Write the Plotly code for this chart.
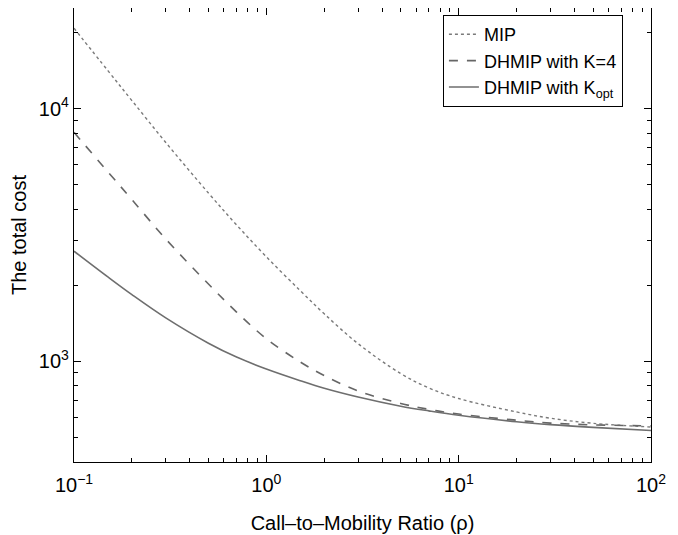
import plotly.graph_objects as go

rho = [0.1, 0.15, 0.2, 0.3, 0.5, 0.7, 1, 1.5, 2, 3, 5, 7, 10, 20, 30, 50, 100]
mip = [20800, 14130, 10760, 7345, 4634, 3467, 2594, 1905, 1542, 1175, 895, 785, 713, 631, 596, 569, 550]
dhmip_k4 = [8054, 5623, 4365, 3048, 2023, 1567, 1230, 995, 879, 764, 682, 646, 619, 585, 570, 561, 556]
dhmip_kopt = [2729, 2158, 1837, 1486, 1180, 1040, 933, 839, 783, 723, 665, 637, 612, 577, 562, 548, 533]

x_tickvals = [0.1, 1, 10, 100]
x_ticktext = ["10<sup>−1</sup>", "10<sup>0</sup>", "10<sup>1</sup>", "10<sup>2</sup>"]
x_minor = [0.2, 0.3, 0.4, 0.5, 0.6, 0.7, 0.8, 0.9, 2, 3, 4, 5, 6, 7, 8, 9, 20, 30, 40, 50, 60, 70, 80, 90]
y_tickvals = [1000, 10000]
y_ticktext = ["10<sup>3</sup>", "10<sup>4</sup>"]
y_minor = [500, 600, 700, 800, 900, 2000, 3000, 4000, 5000, 6000, 7000, 8000, 9000, 20000]

FONT = "Liberation Sans, Arial, sans-serif"

fig = go.Figure()
fig.add_trace(go.Scatter(x=rho, y=mip, mode="lines", name="MIP",
                         line=dict(color="#7a7a7a", width=1.4, dash="dot", shape="spline")))
fig.add_trace(go.Scatter(x=rho, y=dhmip_k4, mode="lines", name="DHMIP with K=4",
                         line=dict(color="#666666", width=1.6, dash="dash", shape="spline")))
fig.add_trace(go.Scatter(x=rho, y=dhmip_kopt, mode="lines", name="DHMIP with K<sub>opt</sub>",
                         line=dict(color="#6e6e6e", width=1.6, shape="spline")))

axis_common = dict(
    showgrid=False, zeroline=False, showline=True, linecolor="black", linewidth=1.2,
    mirror="ticks", ticks="inside", ticklen=7, tickwidth=1, tickcolor="black",
    tickfont=dict(family=FONT, size=20, color="black"),
)

fig.update_xaxes(type="log", range=[-1, 2], tickmode="array", tickvals=x_tickvals, ticktext=x_ticktext,
                 ticklabelstandoff=5,
                 minor=dict(tickmode="array", tickvals=x_minor, ticks="inside", ticklen=4,
                            tickcolor="black", showgrid=False),
                 title=dict(text="Call–to–Mobility Ratio (ρ)", font=dict(family=FONT, size=20, color="black"),
                            standoff=20),
                 **axis_common)
fig.update_yaxes(type="log", range=[2.602, 4.398], tickmode="array", tickvals=y_tickvals, ticktext=y_ticktext,
                 minor=dict(tickmode="array", tickvals=y_minor, ticks="inside", ticklen=4,
                            tickcolor="black", showgrid=False),
                 title=dict(text="The total cost", font=dict(family=FONT, size=20, color="black"),
                            standoff=8),
                 **axis_common)

fig.update_layout(
    width=670, height=527,
    margin=dict(l=66, r=27, t=0, b=73),
    plot_bgcolor="white", paper_bgcolor="white",
    font=dict(family=FONT, color="black"),
    legend=dict(x=0.951, y=0.985, xanchor="right", yanchor="top",
                bgcolor="white", bordercolor="black", borderwidth=1.2,
                font=dict(family=FONT, size=18, color="black"),
                itemwidth=30, tracegroupgap=0),
    showlegend=True,
)

fig.write_html("out.html")
